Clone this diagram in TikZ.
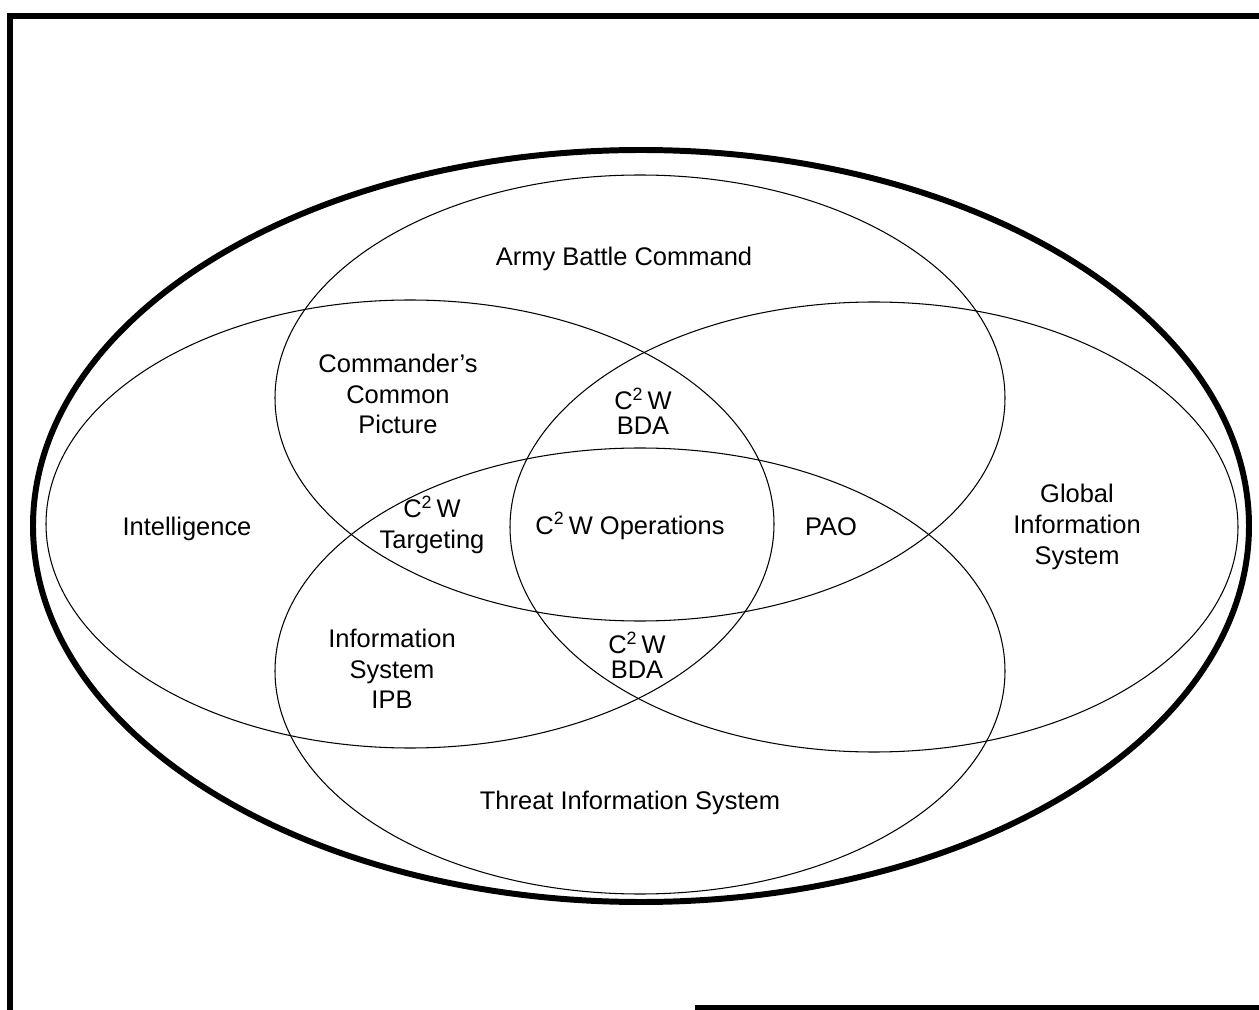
\documentclass[tikz,border=0pt]{standalone}
\usepackage{fontspec}
\setmainfont{Liberation Sans}

\newcommand{\ctw}{C\textsuperscript{2}\,W}

\begin{document}
\begin{tikzpicture}[x=0.02cm, y=-0.02cm,
    every node/.style={align=center, inner sep=0pt, font=\fontsize{14.5}{17.5}\selectfont},
    tight/.style={font=\fontsize{14.5}{14}\selectfont},
    venn/.style={draw, line width=0.6pt},
    rim/.style={draw, line width=3.4pt},
    frame/.style={draw, line width=3.6pt}]
    \useasboundingbox (0,0) rectangle (1259,1010);

    % page frame, open on the right
    \draw[frame] (10,1014) -- (10,16) -- (1264,16);
    \draw[frame] (695,1008) -- (1264,1008);

    \coordinate (outer) at (641,526);
    \coordinate (army_c) at (640,398);
    \coordinate (threat_c) at (640,671);
    \coordinate (intel_c) at (410,524);
    \coordinate (global_c) at (874,527);

    \draw[rim] (outer) ellipse [x radius=608, y radius=376];
    \draw[venn] (army_c) ellipse [x radius=365, y radius=223];
    \draw[venn] (threat_c) ellipse [x radius=365, y radius=223];
    \draw[venn] (intel_c) ellipse [x radius=364, y radius=224];
    \draw[venn] (global_c) ellipse [x radius=364, y radius=225];

    \node (army) at (624,259) {Army Battle Command};
    \node (picture) at (398,394) {Commander's\\Common\\Picture};
    \node[tight] (bda_top) at (643,411) {\ctw\\BDA};
    \node (intel) at (187,529) {Intelligence};
    \node (targeting) at (432,525) {\ctw\\Targeting};
    \node (ops) at (630,526) {\ctw{} Operations};
    \node (pao) at (831,527) {PAO};
    \node (global) at (1077,527) {Global\\Information\\System};
    \node (ipb) at (392,669) {Information\\System\\IPB};
    \node[tight] (bda_bot) at (637,655) {\ctw\\BDA};
    \node (threat) at (630,803) {Threat Information System};
\end{tikzpicture}
\end{document}
